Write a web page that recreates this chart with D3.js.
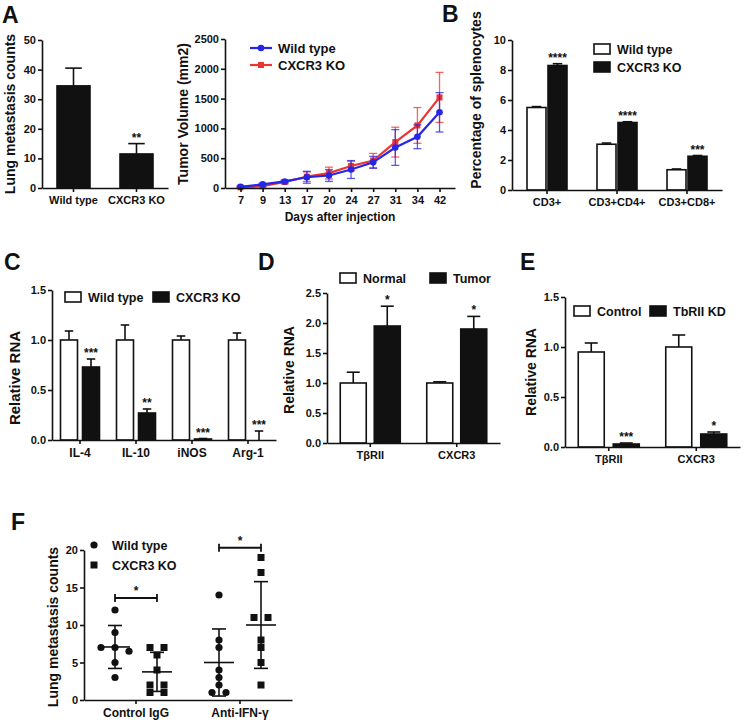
<!DOCTYPE html>
<html>
<head>
<meta charset="utf-8">
<script src="https://cdn.jsdelivr.net/npm/d3@7"></script>
<style>
body { margin: 0; background: #fff; }
svg text { font-family: "Liberation Sans", Arial, sans-serif; font-weight: bold; fill: #111; }
.axis path, .axis line { stroke: #111; stroke-width: 1.6; }
.axis text { font-size: 11px; }
</style>
</head>
<body>
<svg width="750" height="723"></svg>
<script>
// ---- A: lung metastasis bar ----
const aCats = ['Wild type', 'CXCR3 KO'];
const aMean = [34.5, 11.5];
const aErr = [6, 3.5];
const aStars = ['', '**'];

// ---- A: tumor volume ----
const days = ['7', '9', '13', '17', '20', '24', '27', '31', '34', '42'];
const wtVol = [20, 60, 110, 180, 210, 310, 430, 680, 860, 1270];
const wtVolErr = [15, 20, 20, 100, 100, 150, 100, 300, 200, 330];
const koVol = [10, 30, 100, 190, 250, 370, 460, 770, 1050, 1520];
const koVolErr = [10, 15, 30, 80, 100, 80, 120, 250, 300, 420];

// ---- B: splenocytes ----
const bCats = ['CD3+', 'CD3+CD4+', 'CD3+CD8+'];
const bWt = [5.5, 3.05, 1.35];
const bWtErr = [0.06, 0.08, 0.05];
const bKo = [8.3, 4.5, 2.25];
const bKoErr = [0.12, 0.05, 0.05];
const bStars = ['****', '****', '***'];

// ---- C: macrophage genes ----
const cCats = ['IL-4', 'IL-10', 'iNOS', 'Arg-1'];
const cWt = [1, 1, 1, 1];
const cWtErr = [0.09, 0.15, 0.04, 0.07];
const cKo = [0.73, 0.27, 0.01, 0.0];
const cKoErr = [0.08, 0.04, 0.005, 0.09];
const cStars = ['***', '**', '***', '***'];

// ---- D: normal vs tumor ----
const dCats = ['TβRII', 'CXCR3'];
const dNormal = [1.0, 1.0];
const dNormalErr = [0.18, 0.02];
const dTumor = [1.95, 1.9];
const dTumorErr = [0.33, 0.21];
const dStars = ['*', '*'];

// ---- E: knockdown ----
const eCats = ['TβRII', 'CXCR3'];
const eCtrl = [0.95, 1.0];
const eCtrlErr = [0.09, 0.12];
const eKd = [0.03, 0.13];
const eKdErr = [0.01, 0.02];
const eStars = ['***', '*'];

// ---- F: scatter ----
const fCats = ['Control IgG', 'Anti-IFN-γ'];
const fWt = [[12, 9, 7, 7, 6.5, 5, 3], [14, 8, 7, 4, 3, 2, 1, 1]];
const fKo = [[7, 7, 6, 4, 2, 2, 1, 1], [19, 17, 11, 11, 8, 7, 5, 2]];
const fBracket = [13.6, 20.3];

const svg = d3.select('svg');

function panelLetter(t, x, y) {
  svg.append('text').attr('x', x).attr('y', y).style('font-size', '23px').text(t);
}

function yTitle(t, x, yc, size) {
  svg.append('text')
    .attr('transform', `translate(${x},${yc}) rotate(-90)`)
    .attr('text-anchor', 'middle')
    .style('font-size', size + 'px')
    .text(t);
}

function leftAxis(y, x0, ticks, fmt) {
  svg.append('g').attr('class', 'axis')
    .attr('transform', `translate(${x0},0)`)
    .call(d3.axisLeft(y).tickValues(ticks).tickFormat(fmt).tickSize(4).tickSizeOuter(0).tickPadding(2));
}

function bottomAxis(x, y0, size) {
  const g = svg.append('g').attr('class', 'axis')
    .attr('transform', `translate(0,${y0})`)
    .call(d3.axisBottom(x).tickSize(4).tickSizeOuter(0).tickPadding(4));
  g.selectAll('text').style('font-size', (size || 11) + 'px');
}

function legendBox(x, y, fill, label) {
  svg.append('rect').attr('x', x).attr('y', y).attr('width', 16).attr('height', 10)
    .attr('fill', fill).attr('stroke', '#111').attr('stroke-width', 1.6);
  svg.append('text').attr('x', x + 23).attr('y', y + 10).style('font-size', '12.5px').text(label);
}

// grouped bar panel, error bars drawn upward only
function barPanel(o) {
  const x = d3.scaleBand().domain(o.cats).range([o.x0, o.x1]);
  const y = d3.scaleLinear().domain([0, o.max]).range([o.yBot, o.yTop]);
  const n = o.series.length;
  o.series.forEach((s, si) => {
    const off = n === 1 ? -o.barW / 2 : (si === 0 ? -o.gap / 2 - o.barW : o.gap / 2);
    const rows = o.cats.map((c, i) => ({ c, v: s.vals[i], e: s.errs[i], st: s.stars ? s.stars[i] : '' }));
    const cx = d => x(d.c) + x.bandwidth() / 2 + off;
    const g = svg.append('g');
    g.selectAll('line.err').data(rows).enter().append('line')
      .attr('x1', d => cx(d) + o.barW / 2).attr('x2', d => cx(d) + o.barW / 2)
      .attr('y1', d => y(d.v)).attr('y2', d => y(d.v + d.e))
      .attr('stroke', '#111').attr('stroke-width', 1.6);
    g.selectAll('line.cap').data(rows).enter().append('line')
      .attr('x1', d => cx(d) + o.barW * 0.25).attr('x2', d => cx(d) + o.barW * 0.75)
      .attr('y1', d => y(d.v + d.e)).attr('y2', d => y(d.v + d.e))
      .attr('stroke', '#111').attr('stroke-width', 1.6);
    g.selectAll('rect').data(rows).enter().append('rect')
      .attr('x', cx).attr('width', o.barW)
      .attr('y', d => y(d.v)).attr('height', d => Math.max(0, y(0) - y(d.v)))
      .attr('fill', s.fill).attr('stroke', '#111').attr('stroke-width', 1.6);
    g.selectAll('text').data(rows.filter(d => d.st)).enter().append('text')
      .attr('x', d => cx(d) + o.barW / 2).attr('y', d => y(d.v + d.e) - 2)
      .attr('text-anchor', 'middle').style('font-size', '12px').text(d => d.st);
  });
  leftAxis(y, o.x0, o.ticks, o.fmt);
  bottomAxis(x, o.yBot, o.xSize);
  return { x, y };
}

// ================= A (bar) =================
panelLetter('A', 2, 23);
barPanel({
  cats: aCats, x0: 42, x1: 168, yTop: 40, yBot: 188, max: 50,
  ticks: [0, 10, 20, 30, 40, 50], fmt: d3.format('d'), barW: 33, gap: 0,
  series: [{ vals: aMean, errs: aErr, fill: '#111', stars: aStars }]
});
yTitle('Lung metastasis counts', 15, 114, 14);

// ================= A (line) =================
const lx = d3.scalePoint().domain(days).range([225, 455]).padding(0.7);
const ly = d3.scaleLinear().domain([0, 2500]).range([188, 39]);
const lineSeries = [
  { vals: koVol, errs: koVolErr, color: '#ee3333', shape: 'square' },
  { vals: wtVol, errs: wtVolErr, color: '#2626e6', shape: 'circle' }
];
lineSeries.forEach(s => {
  const pts = days.map((d, i) => ({ d, v: s.vals[i], e: s.errs[i] }));
  const g = svg.append('g');
  g.selectAll('line.ev').data(pts).enter().append('line')
    .attr('x1', p => lx(p.d)).attr('x2', p => lx(p.d))
    .attr('y1', p => ly(p.v - p.e)).attr('y2', p => ly(p.v + p.e))
    .attr('stroke', s.color).attr('stroke-width', 1.3).attr('opacity', 0.75);
  [-1, 1].forEach(sg => {
    g.selectAll(null).data(pts).enter().append('line')
      .attr('x1', p => lx(p.d) - 4).attr('x2', p => lx(p.d) + 4)
      .attr('y1', p => ly(p.v + sg * p.e)).attr('y2', p => ly(p.v + sg * p.e))
      .attr('stroke', s.color).attr('stroke-width', 1.3).attr('opacity', 0.75);
  });
  g.append('path').datum(pts)
    .attr('d', d3.line().x(p => lx(p.d)).y(p => ly(p.v)))
    .attr('fill', 'none').attr('stroke', s.color).attr('stroke-width', 2.2);
  if (s.shape === 'circle') {
    g.selectAll('circle').data(pts).enter().append('circle')
      .attr('cx', p => lx(p.d)).attr('cy', p => ly(p.v)).attr('r', 3.3).attr('fill', s.color);
  } else {
    g.selectAll('rect').data(pts).enter().append('rect')
      .attr('x', p => lx(p.d) - 3).attr('y', p => ly(p.v) - 3)
      .attr('width', 6).attr('height', 6).attr('fill', s.color);
  }
});
leftAxis(ly, 225, [0, 500, 1000, 1500, 2000, 2500], d3.format('d'));
bottomAxis(lx, 188);
yTitle('Tumor Volume (mm2)', 188, 114, 14);
svg.append('text').attr('x', 340).attr('y', 221).attr('text-anchor', 'middle')
  .style('font-size', '12px').text('Days after injection');
// line legend
[{ y: 48, c: '#2626e6', t: 'Wild type', shape: 'circle' }, { y: 65, c: '#ee3333', t: 'CXCR3 KO', shape: 'square' }]
  .forEach(l => {
    svg.append('line').attr('x1', 250).attr('x2', 272).attr('y1', l.y).attr('y2', l.y)
      .attr('stroke', l.c).attr('stroke-width', 2.2);
    if (l.shape === 'circle') svg.append('circle').attr('cx', 261).attr('cy', l.y).attr('r', 3.3).attr('fill', l.c);
    else svg.append('rect').attr('x', 258).attr('y', l.y - 3).attr('width', 6).attr('height', 6).attr('fill', l.c);
    svg.append('text').attr('x', 278).attr('y', l.y + 5).style('font-size', '13px').text(l.t);
  });

// ================= B =================
panelLetter('B', 442, 22);
barPanel({
  cats: bCats, x0: 512, x1: 722, yTop: 40, yBot: 190, max: 10,
  ticks: [0, 2, 4, 6, 8, 10], fmt: d3.format('d'), barW: 19, gap: 2,
  series: [
    { vals: bWt, errs: bWtErr, fill: '#fff' },
    { vals: bKo, errs: bKoErr, fill: '#111', stars: bStars }
  ]
});
yTitle('Percentage of splenocytes', 481, 100, 14);
legendBox(594, 44, '#fff', 'Wild type');
legendBox(594, 62, '#111', 'CXCR3 KO');

// ================= C =================
panelLetter('C', 4, 270);
barPanel({
  cats: cCats, x0: 52, x1: 276, yTop: 290, yBot: 440, max: 1.5,
  ticks: [0, 0.5, 1, 1.5], fmt: d3.format('.1f'), barW: 17, gap: 5, xSize: 12,
  series: [
    { vals: cWt, errs: cWtErr, fill: '#fff' },
    { vals: cKo, errs: cKoErr, fill: '#111', stars: cStars }
  ]
});
yTitle('Relative RNA', 20, 378, 15);
legendBox(65, 292, '#fff', 'Wild type');
legendBox(153, 292, '#111', 'CXCR3 KO');

// ================= D =================
panelLetter('D', 258, 270);
barPanel({
  cats: dCats, x0: 327, x1: 500, yTop: 293, yBot: 443, max: 2.5,
  ticks: [0, 0.5, 1, 1.5, 2, 2.5], fmt: d3.format('.1f'), barW: 26, gap: 8,
  series: [
    { vals: dNormal, errs: dNormalErr, fill: '#fff' },
    { vals: dTumor, errs: dTumorErr, fill: '#111', stars: dStars }
  ]
});
yTitle('Relative RNA', 294, 370, 14);
legendBox(340, 273, '#fff', 'Normal');
legendBox(430, 273, '#111', 'Tumor');

// ================= E =================
panelLetter('E', 520, 270);
barPanel({
  cats: eCats, x0: 565, x1: 740, yTop: 297, yBot: 447, max: 1.5,
  ticks: [0, 0.5, 1, 1.5], fmt: d3.format('.1f'), barW: 26, gap: 9,
  series: [
    { vals: eCtrl, errs: eCtrlErr, fill: '#fff' },
    { vals: eKd, errs: eKdErr, fill: '#111', stars: eStars }
  ]
});
yTitle('Relative RNA', 536, 372, 14);
legendBox(574, 306, '#fff', 'Control');
legendBox(650, 306, '#111', 'TbRII KD');

// ================= F =================
panelLetter('F', 11, 530);
const fx = d3.scaleBand().domain(fCats).range([84, 292]);
const fy = d3.scaleLinear().domain([0, 20]).range([700, 550]);
const fGroups = [];
fCats.forEach((c, i) => {
  fGroups.push({ c, vals: fWt[i], side: -1, shape: 'circle' });
  fGroups.push({ c, vals: fKo[i], side: 1, shape: 'square' });
});
const fg = svg.append('g');
fGroups.forEach(gr => {
  const cx = fx(gr.c) + fx.bandwidth() / 2 + gr.side * 21;
  // spread points sharing (about) the same value side by side
  const sorted = gr.vals.slice().sort((a, b) => b - a);
  const pts = [];
  let k = 0;
  while (k < sorted.length) {
    let j = k;
    while (j + 1 < sorted.length && sorted[k] - sorted[j + 1] <= 0.6) j++;
    const m = j - k + 1;
    for (let t = 0; t < m; t++) pts.push({ v: sorted[k + t], dx: (t - (m - 1) / 2) * 14 });
    k = j + 1;
  }
  if (gr.shape === 'circle') {
    fg.selectAll(null).data(pts).enter().append('circle')
      .attr('cx', p => cx + p.dx).attr('cy', p => fy(p.v)).attr('r', 3.6).attr('fill', '#111');
  } else {
    fg.selectAll(null).data(pts).enter().append('rect')
      .attr('x', p => cx + p.dx - 3.5).attr('y', p => fy(p.v) - 3.5)
      .attr('width', 7).attr('height', 7).attr('fill', '#111');
  }
  const mean = d3.mean(gr.vals), sd = d3.deviation(gr.vals);
  fg.append('line').attr('x1', cx - 15).attr('x2', cx + 15).attr('y1', fy(mean)).attr('y2', fy(mean))
    .attr('stroke', '#111').attr('stroke-width', 1.6);
  fg.append('line').attr('x1', cx).attr('x2', cx).attr('y1', fy(mean - sd)).attr('y2', fy(mean + sd))
    .attr('stroke', '#111').attr('stroke-width', 1.6);
  [mean - sd, mean + sd].forEach(v => {
    fg.append('line').attr('x1', cx - 7).attr('x2', cx + 7).attr('y1', fy(v)).attr('y2', fy(v))
      .attr('stroke', '#111').attr('stroke-width', 1.6);
  });
});
// significance brackets
fCats.forEach((c, i) => {
  const xm = fx(c) + fx.bandwidth() / 2;
  const yb = fy(fBracket[i]);
  fg.append('line').attr('x1', xm - 21).attr('x2', xm + 21).attr('y1', yb).attr('y2', yb)
    .attr('stroke', '#111').attr('stroke-width', 1.8);
  [-21, 21].forEach(dx => fg.append('line').attr('x1', xm + dx).attr('x2', xm + dx)
    .attr('y1', yb - 4).attr('y2', yb + 4).attr('stroke', '#111').attr('stroke-width', 1.8));
  fg.append('text').attr('x', xm).attr('y', yb - 3).attr('text-anchor', 'middle')
    .style('font-size', '12px').text('*');
});
leftAxis(fy, 84, [0, 5, 10, 15, 20], d3.format('d'));
bottomAxis(fx, 700, 12);
yTitle('Lung metastasis counts', 58, 627, 14);
svg.append('circle').attr('cx', 94).attr('cy', 545).attr('r', 3.6).attr('fill', '#111');
svg.append('text').attr('x', 112).attr('y', 550).style('font-size', '12.5px').text('Wild type');
svg.append('rect').attr('x', 90.5).attr('y', 561.5).attr('width', 7).attr('height', 7).attr('fill', '#111');
svg.append('text').attr('x', 112).attr('y', 570).style('font-size', '12.5px').text('CXCR3 KO');
</script>
</body>
</html>
